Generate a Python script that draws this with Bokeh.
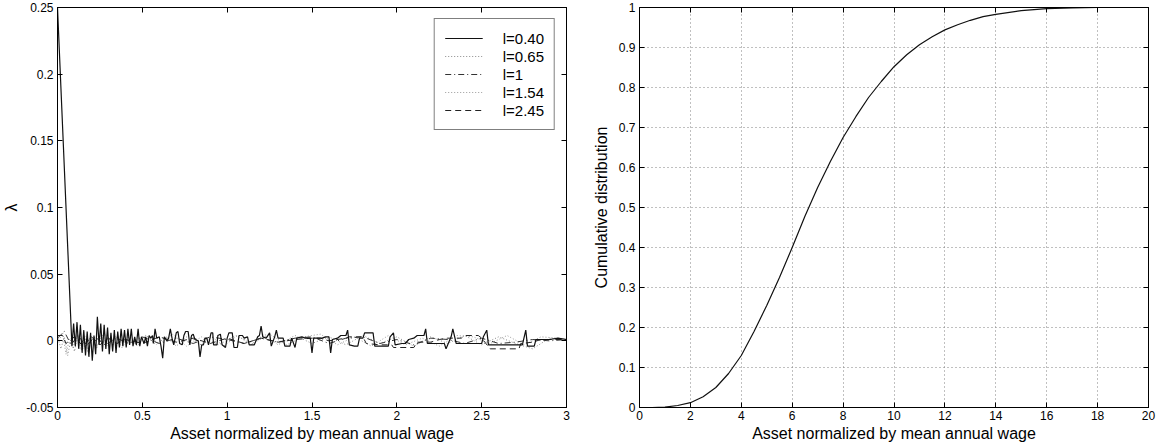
from bokeh.plotting import figure
from bokeh.layouts import row
from bokeh.models import (FixedTicker, LinearAxis, Range1d, Legend, LegendItem,
                          CustomJSTickFormatter)
from bokeh.embed import file_html
from bokeh.resources import INLINE

# ---------------- data: left panel (lambda vs normalized asset) -------------
l040_x = [0.0, 0.085, 0.095, 0.105, 0.115, 0.125, 0.135, 0.145, 0.155, 0.165, 0.175, 0.185,
          0.195, 0.205, 0.215, 0.225, 0.235, 0.245, 0.255, 0.265, 0.275, 0.285, 0.295,
          0.305, 0.315, 0.325, 0.335, 0.345, 0.355, 0.365, 0.375, 0.385, 0.395, 0.405,
          0.415, 0.425, 0.435, 0.445, 0.455, 0.465, 0.475, 0.485, 0.495,
          0.51, 0.52, 0.53, 0.54, 0.55, 0.56, 0.565, 0.57, 0.575,
          0.585, 0.60, 0.61, 0.62, 0.63, 0.645, 0.655, 0.665, 0.675, 0.685, 0.70, 0.71,
          0.72, 0.735, 0.745, 0.755, 0.77, 0.78, 0.79, 0.80, 0.81, 0.83, 0.84, 0.85,
          0.86, 0.87, 0.88, 0.89, 0.90, 0.905, 0.915, 0.92, 0.94, 0.945, 0.96, 0.97,
          0.99, 1.00, 1.01, 1.03, 1.04, 1.06, 1.07, 1.09, 1.10, 1.12, 1.13, 1.16,
          1.18, 1.19, 1.20, 1.21, 1.23, 1.25, 1.26, 1.28, 1.29, 1.30, 1.33, 1.34,
          1.37, 1.38, 1.40, 1.41, 1.44, 1.46, 1.49, 1.50, 1.51, 1.56, 1.58, 1.60,
          1.61, 1.62, 1.65, 1.67, 1.70, 1.71, 1.72, 1.75, 1.77, 1.78, 1.80, 1.81,
          1.86, 1.87, 1.95, 1.96, 1.98, 1.99, 2.03, 2.05, 2.07, 2.10, 2.12, 2.16,
          2.17, 2.18, 2.28, 2.29, 2.32, 2.33, 2.35, 2.45, 2.50, 2.51, 2.53, 2.54,
          2.59, 2.61, 2.74, 2.76, 2.77, 2.81, 2.82, 2.90, 2.95, 3.00]
l040_y = [0.25, -0.004, 0.013, -0.004, 0.014, -0.006, 0.012, -0.009, 0.008, -0.011, 0.007,
          -0.012, 0.006, -0.015, 0.004, -0.010, 0.018, -0.003, 0.013, -0.008, 0.012, -0.006,
          0.010, -0.010, 0.006, -0.008, 0.008, -0.009, 0.007, -0.005, 0.009, -0.004, 0.008,
          -0.005, 0.009, -0.003, 0.009, -0.004, 0.003, -0.003, 0.009, -0.004, 0.003,
          -0.002, 0.003, -0.004, 0.004, 0.002, 0.004, -0.002, 0.003, 0.009,
          0.002, 0.003, -0.004, -0.013, 0.003, 0.000, 0.002, 0.009, 0.002, -0.003, 0.006, 0.007,
          -0.002, -0.003, 0.004, 0.007, 0.007, -0.003, 0.004, 0.005, 0.001, 0.000, -0.012, -0.003,
          -0.003, 0.002, 0.002, -0.003, 0.003, 0.006, 0.006, -0.003, -0.003, 0.004, 0.005, -0.003,
          -0.005, 0.002, 0.006, 0.006, -0.005, -0.005, 0.004, 0.004, 0.002, 0.003, -0.003, -0.003,
          0.003, 0.004, 0.011, 0.003, 0.002, 0.006, -0.004, 0.003, 0.008, 0.002, 0.002, -0.004,
          -0.004, 0.002, -0.005, 0.002, 0.003, 0.002, 0.002, -0.009, 0.002, 0.002, 0.003, 0.003,
          -0.009, 0.001, 0.002, 0.004, 0.004, 0.008, -0.003, -0.004, -0.004, 0.002, 0.002, 0.006,
          0.006, -0.004, -0.004, 0.003, 0.006, -0.003, -0.002, -0.002, 0.001, 0.002, 0.004, 0.004,
          0.009, -0.002, -0.002, -0.006, 0.003, 0.009, -0.002, -0.002, -0.002, 0.003, 0.008, -0.003,
          -0.003, -0.003, -0.003, 0.008, -0.004, -0.004, 0.001, 0.001, 0.002, 0.001]

l065_x = [0.0, 0.02, 0.04, 0.06, 0.08, 0.10, 0.12, 0.14, 0.16, 0.18, 0.20, 0.23, 0.26, 0.30,
          0.34, 0.38, 0.42, 0.47, 0.52, 0.58, 0.64, 0.70, 0.77, 0.84, 0.91, 0.98, 1.06, 1.14,
          1.22, 1.30, 1.40, 1.50, 1.60, 1.70, 1.80, 1.90, 2.00, 2.10, 2.20, 2.30, 2.40, 2.50,
          2.60, 2.70, 2.80, 2.90, 3.00]
l065_y = [0.004, -0.006, 0.003, -0.011, 0.002, -0.008, 0.005, -0.007, 0.004, -0.009, 0.003,
          -0.006, 0.005, -0.004, 0.004, -0.005, 0.003, -0.004, 0.004, -0.003, 0.003, -0.004,
          0.004, -0.003, 0.003, -0.004, 0.004, -0.003, 0.005, -0.003, 0.004, -0.002, 0.003,
          -0.003, 0.004, -0.002, 0.003, -0.004, 0.003, -0.002, 0.004, -0.003, 0.003, -0.002,
          -0.006, 0.002, 0.001]

l100_x = [0.0, 0.04, 0.08, 0.12, 0.17, 0.22, 0.28, 0.35, 0.42, 0.50, 0.60, 0.70, 0.80, 0.90,
          1.00, 1.10, 1.20, 1.30, 1.40, 1.50, 1.60, 1.70, 1.80, 1.90, 2.00, 2.10, 2.20, 2.30,
          2.40, 2.50, 2.60, 2.70, 2.80, 2.90, 3.00]
l100_y = [0.002, 0.007, -0.003, 0.004, -0.004, 0.003, -0.003, 0.002, -0.002, 0.003, -0.002,
          0.002, -0.002, 0.003, 0.001, -0.002, 0.002, -0.001, 0.002, 0.003, -0.002, 0.002,
          0.003, -0.002, 0.001, -0.003, 0.002, 0.001, -0.002, 0.002, -0.002, -0.001, 0.001,
          0.000, 0.001]

l154_x = [0.0, 0.03, 0.05, 0.07, 0.09, 0.12, 0.15, 0.19, 0.23, 0.28, 0.33, 0.39, 0.45, 0.52,
          0.60, 0.68, 0.76, 0.85, 0.95, 1.05, 1.15, 1.25, 1.35, 1.45, 1.55, 1.65, 1.75, 1.85,
          1.95, 2.05, 2.15, 2.25, 2.35, 2.45, 2.55, 2.65, 2.75, 2.85, 2.95, 3.00]
l154_y = [-0.002, 0.006, -0.010, 0.001, -0.005, 0.004, -0.006, 0.002, -0.004, 0.005, -0.003,
          0.002, -0.003, 0.004, -0.002, 0.005, -0.004, 0.003, -0.003, 0.004, -0.002, 0.005,
          -0.003, 0.003, 0.005, -0.003, 0.003, -0.004, 0.004, -0.003, 0.002, -0.004, 0.004,
          0.003, -0.002, 0.004, -0.003, 0.003, 0.002, 0.001]

l245_x = [0.0, 0.03, 0.05, 0.10, 0.15, 0.20, 0.25, 0.30, 0.35, 0.40, 0.50, 0.60, 0.70, 0.80,
          0.90, 1.00, 1.10, 1.20, 1.30, 1.40, 1.50, 1.55, 1.60, 1.70, 1.72, 1.80, 1.82, 1.90,
          1.97, 1.98, 2.10, 2.12, 2.20, 2.25, 2.30, 2.38, 2.40, 2.48, 2.50, 2.55, 2.72, 2.73,
          2.80, 2.85, 3.00]
l245_y = [0.004, 0.004, -0.002, 0.003, -0.004, 0.003, -0.003, 0.002, -0.002, 0.001, -0.002,
          0.003, -0.001, 0.002, -0.002, 0.002, -0.002, 0.002, -0.001, 0.001, 0.002, 0.002,
          0.000, 0.002, 0.003, 0.003, -0.002, -0.003, -0.003, -0.005, -0.005, -0.001, -0.001,
          0.001, 0.002, 0.002, 0.004, 0.004, 0.002, -0.006, -0.006, -0.002, -0.001, 0.001, 0.001]

legend_labels = ["l=0.40", "l=0.65", "l=1", "l=1.54", "l=2.45"]

left_xticks = [0, 0.5, 1, 1.5, 2, 2.5, 3]
left_yticks = [-0.05, 0, 0.05, 0.1, 0.15, 0.2, 0.25]

# ---------------- data: right panel (cumulative distribution) ---------------
cdf_x = [0.5, 1, 1.5, 2, 2.5, 3, 3.5, 4, 4.5, 5, 5.5, 6, 6.5, 7, 7.5, 8, 8.5, 9, 9.5,
         10, 10.5, 11, 11.5, 12, 12.5, 13, 13.5, 14, 15, 16, 17, 18, 19]
cdf_y = [0.0, 0.001, 0.005, 0.012, 0.027, 0.05, 0.085, 0.13, 0.19, 0.255, 0.325, 0.40,
         0.478, 0.55, 0.615, 0.675, 0.727, 0.775, 0.815, 0.852, 0.882, 0.907, 0.927,
         0.944, 0.957, 0.968, 0.977, 0.983, 0.992, 0.997, 0.999, 1.0, 1.0]

right_xticks = [0, 2, 4, 6, 8, 10, 12, 14, 16, 18, 20]
right_yticks = [0, 0.1, 0.2, 0.3, 0.4, 0.5, 0.6, 0.7, 0.8, 0.9, 1]

FONT = "Liberation Sans"
TICK_SIZE = "12px"
LABEL_SIZE = "16px"


def style_axis(ax, standoff=4, label_standoff=2):
    ax.major_label_text_font = FONT
    ax.major_label_text_font_size = TICK_SIZE
    ax.major_label_text_color = "black"
    ax.axis_label_text_font = FONT
    ax.axis_label_text_font_size = LABEL_SIZE
    ax.axis_label_text_font_style = "normal"
    ax.axis_label_text_color = "black"
    ax.axis_label_standoff = label_standoff
    ax.major_tick_in = 5
    ax.major_tick_out = 0
    ax.minor_tick_line_color = None
    ax.axis_line_color = "black"
    ax.major_tick_line_color = "black"
    ax.major_label_standoff = standoff


def add_box_axes(p, xticks, yticks):
    blank = CustomJSTickFormatter(code="return ''")
    for loc, ticks in (("above", xticks), ("right", yticks)):
        ax = LinearAxis(ticker=FixedTicker(ticks=ticks), formatter=blank)
        ax.major_tick_in = 5
        ax.major_tick_out = 0
        ax.minor_tick_line_color = None
        ax.major_label_standoff = 0
        ax.major_label_text_font_size = "1px"
        ax.axis_line_color = "black"
        p.add_layout(ax, loc)


# ---------------- left figure ----------------
p1 = figure(width=582, height=444, output_backend="svg", toolbar_location=None,
            x_range=Range1d(0, 3), y_range=Range1d(-0.05, 0.25),
            min_border_left=50, min_border_right=16, min_border_top=7, min_border_bottom=10)
p1.background_fill_color = "white"
p1.border_fill_color = "white"
p1.outline_line_color = "black"
p1.grid.visible = False

p1.xaxis.ticker = FixedTicker(ticks=left_xticks)
p1.yaxis.ticker = FixedTicker(ticks=left_yticks)
p1.xaxis.axis_label = "Asset normalized by mean annual wage"
p1.yaxis.axis_label = "λ"
style_axis(p1.xaxis[0], standoff=3, label_standoff=2)
style_axis(p1.yaxis[0], standoff=4, label_standoff=3)
p1.yaxis.major_label_overrides = {-0.05: "-0.05", 0: "0", 0.05: "0.05", 0.1: "0.1",
                                  0.15: "0.15", 0.2: "0.2", 0.25: "0.25"}
p1.xaxis.major_label_overrides = {0: "0", 0.5: "0.5", 1: "1", 1.5: "1.5", 2: "2",
                                  2.5: "2.5", 3: "3"}
add_box_axes(p1, left_xticks, left_yticks)

r065 = p1.line(l065_x, l065_y, line_color="#8a8a8a", line_width=1, line_dash="1 2")
r154 = p1.line(l154_x, l154_y, line_color="#9a9a9a", line_width=1, line_dash="1 2")
r100 = p1.line(l100_x, l100_y, line_color="#333333", line_width=1, line_dash="6 3 1 3")
r245 = p1.line(l245_x, l245_y, line_color="#222222", line_width=1, line_dash="6 4")
r040 = p1.line(l040_x, l040_y, line_color="#111111", line_width=1.2)

legend = Legend(items=[LegendItem(label=legend_labels[0], renderers=[r040]),
                       LegendItem(label=legend_labels[1], renderers=[r065]),
                       LegendItem(label=legend_labels[2], renderers=[r100]),
                       LegendItem(label=legend_labels[3], renderers=[r154]),
                       LegendItem(label=legend_labels[4], renderers=[r245])],
                location="top_right")
legend.label_text_font = FONT
legend.label_text_font_size = "15px"
legend.label_text_color = "black"
legend.border_line_color = "black"
legend.border_line_width = 1
legend.background_fill_alpha = 1
legend.glyph_width = 38
legend.glyph_height = 18
legend.label_height = 18
legend.label_standoff = 20
legend.spacing = 0
legend.padding = 10
legend.margin = 11
p1.add_layout(legend)

# ---------------- right figure ----------------
p2 = figure(width=580, height=444, output_backend="svg", toolbar_location=None,
            x_range=Range1d(0, 20), y_range=Range1d(0, 1),
            min_border_left=57, min_border_right=14, min_border_top=7, min_border_bottom=10)
p2.background_fill_color = "white"
p2.border_fill_color = "white"
p2.outline_line_color = "black"
p2.xaxis.ticker = FixedTicker(ticks=right_xticks)
p2.yaxis.ticker = FixedTicker(ticks=right_yticks)
p2.xaxis.axis_label = "Asset normalized by mean annual wage"
p2.yaxis.axis_label = "Cumulative distribution"
style_axis(p2.xaxis[0], standoff=3, label_standoff=2)
style_axis(p2.yaxis[0], standoff=4, label_standoff=6)
p2.yaxis.major_label_overrides = {0: "0", 1: "1"}
p2.xgrid.grid_line_color = "#808080"
p2.ygrid.grid_line_color = "#808080"
p2.xgrid.grid_line_dash = "1 3"
p2.ygrid.grid_line_dash = "1 3"
p2.xgrid.grid_line_width = 1
p2.ygrid.grid_line_width = 1
add_box_axes(p2, right_xticks, right_yticks)

p2.line(cdf_x, cdf_y, line_color="#111111", line_width=1.2)

layout = row(p1, p2)
open("out.html", "w").write(file_html(layout, INLINE))
